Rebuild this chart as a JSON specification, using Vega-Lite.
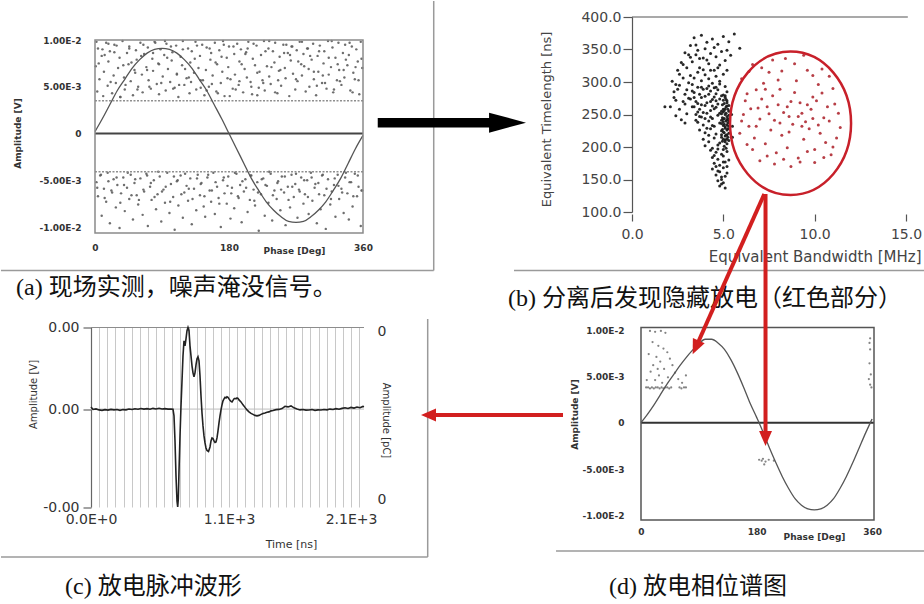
{
"$schema":"https://vega.github.io/schema/vega-lite/v6.json",
"background":"white",
"padding":0,
"autosize":{"type":"pad"},
"config":{"view":{"stroke":null},"font":"DejaVu Sans","axis":{"labelOverlap":false,"labelFlush":false}},
"datasets":{
"aNoise":[
{"p":1,"a":0.0072},{"p":3,"a":0.0045},{"p":4,"a":0.0091},{"p":6,"a":0.0058},{"p":9,"a":0.0083},{"p":11,"a":0.0040},{"p":12,"a":0.0066},{"p":15,"a":0.0097},{"p":17,"a":0.0051},{"p":18,"a":0.0077},
{"p":20,"a":0.0088},{"p":23,"a":0.0043},{"p":25,"a":0.0062},{"p":26,"a":0.0095},{"p":28,"a":0.0054},{"p":31,"a":0.0070},{"p":33,"a":0.0081},{"p":34,"a":0.0039},{"p":37,"a":0.0099},{"p":39,"a":0.0060},
{"p":40,"a":0.0047},{"p":43,"a":0.0086},{"p":45,"a":0.0074},{"p":46,"a":0.0093},{"p":48,"a":0.0056},{"p":51,"a":0.0041},{"p":53,"a":0.0068},{"p":55,"a":0.0089},{"p":56,"a":0.0079},{"p":58,"a":0.0050},
{"p":61,"a":0.0097},{"p":63,"a":0.0063},{"p":64,"a":0.0044},{"p":66,"a":0.0085},{"p":69,"a":0.0071},{"p":71,"a":0.0092},{"p":72,"a":0.0057},{"p":75,"a":0.0048},{"p":77,"a":0.0080},{"p":78,"a":0.0067},
{"p":80,"a":0.0098},{"p":83,"a":0.0053},{"p":85,"a":0.0075},{"p":86,"a":0.0042},{"p":88,"a":0.0090},{"p":91,"a":0.0061},{"p":93,"a":0.0084},{"p":95,"a":0.0046},{"p":96,"a":0.0096},{"p":98,"a":0.0069},
{"p":101,"a":0.0055},{"p":103,"a":0.0078},{"p":104,"a":0.0087},{"p":107,"a":0.0049},{"p":109,"a":0.0094},{"p":110,"a":0.0064},{"p":112,"a":0.0039},{"p":115,"a":0.0082},{"p":117,"a":0.0073},{"p":118,"a":0.0099},
{"p":120,"a":0.0052},{"p":123,"a":0.0059},{"p":125,"a":0.0091},{"p":127,"a":0.0043},{"p":128,"a":0.0076},{"p":130,"a":0.0088},{"p":133,"a":0.0065},{"p":135,"a":0.0098},{"p":136,"a":0.0047},{"p":139,"a":0.0070},
{"p":141,"a":0.0083},{"p":142,"a":0.0057},{"p":144,"a":0.0095},{"p":147,"a":0.0041},{"p":149,"a":0.0068},{"p":150,"a":0.0092},{"p":153,"a":0.0050},{"p":155,"a":0.0079},{"p":156,"a":0.0086},{"p":158,"a":0.0062},
{"p":161,"a":0.0097},{"p":163,"a":0.0045},{"p":164,"a":0.0074},{"p":167,"a":0.0089},{"p":169,"a":0.0054},{"p":171,"a":0.0066},{"p":172,"a":0.0099},{"p":174,"a":0.0040},{"p":177,"a":0.0081},{"p":179,"a":0.0071},
{"p":180,"a":0.0093},{"p":182,"a":0.0058},{"p":185,"a":0.0048},{"p":187,"a":0.0085},{"p":188,"a":0.0063},{"p":191,"a":0.0096},{"p":193,"a":0.0052},{"p":194,"a":0.0077},{"p":196,"a":0.0090},{"p":199,"a":0.0044},
{"p":201,"a":0.0069},{"p":203,"a":0.0087},{"p":204,"a":0.0060},{"p":206,"a":0.0098},{"p":209,"a":0.0055},{"p":211,"a":0.0042},{"p":212,"a":0.0080},{"p":215,"a":0.0073},{"p":217,"a":0.0094},{"p":218,"a":0.0065},
{"p":220,"a":0.0049},{"p":223,"a":0.0084},{"p":225,"a":0.0057},{"p":227,"a":0.0099},{"p":228,"a":0.0046},{"p":231,"a":0.0072},{"p":233,"a":0.0091},{"p":234,"a":0.0061},{"p":236,"a":0.0053},{"p":239,"a":0.0088},
{"p":241,"a":0.0076},{"p":242,"a":0.0097},{"p":245,"a":0.0043},{"p":247,"a":0.0067},{"p":248,"a":0.0082},{"p":250,"a":0.0051},{"p":253,"a":0.0095},{"p":255,"a":0.0070},{"p":256,"a":0.0059},{"p":259,"a":0.0086},
{"p":261,"a":0.0040},{"p":263,"a":0.0078},{"p":264,"a":0.0093},{"p":266,"a":0.0064},{"p":269,"a":0.0047},{"p":271,"a":0.0089},{"p":272,"a":0.0056},{"p":275,"a":0.0098},{"p":277,"a":0.0074},{"p":278,"a":0.0062},
{"p":280,"a":0.0085},{"p":283,"a":0.0045},{"p":285,"a":0.0091},{"p":287,"a":0.0069},{"p":288,"a":0.0050},{"p":291,"a":0.0079},{"p":293,"a":0.0096},{"p":294,"a":0.0058},{"p":297,"a":0.0041},{"p":299,"a":0.0083},
{"p":300,"a":0.0066},{"p":302,"a":0.0094},{"p":305,"a":0.0054},{"p":307,"a":0.0075},{"p":308,"a":0.0088},{"p":311,"a":0.0048},{"p":313,"a":0.0099},{"p":314,"a":0.0063},{"p":317,"a":0.0071},{"p":319,"a":0.0092},
{"p":320,"a":0.0044},{"p":323,"a":0.0081},{"p":325,"a":0.0057},{"p":327,"a":0.0097},{"p":328,"a":0.0068},{"p":331,"a":0.0052},{"p":333,"a":0.0086},{"p":335,"a":0.0060},{"p":336,"a":0.0095},{"p":339,"a":0.0073},
{"p":341,"a":0.0084},{"p":343,"a":0.0046},{"p":345,"a":0.0093},{"p":347,"a":0.0065},{"p":349,"a":0.0058},{"p":351,"a":0.0090},{"p":353,"a":0.0077},{"p":355,"a":0.0042},{"p":357,"a":0.0098},{"p":359,"a":0.0070},
{"p":2,"a":0.0098},{"p":5,"a":0.0075},{"p":10,"a":0.0090},{"p":13,"a":0.0084},{"p":18,"a":0.0096},{"p":21,"a":0.0055},{"p":26,"a":0.0087},{"p":29,"a":0.0094},{"p":34,"a":0.0039},{"p":38,"a":0.0073},
{"p":41,"a":0.0052},{"p":46,"a":0.0091},{"p":49,"a":0.0076},{"p":54,"a":0.0065},{"p":57,"a":0.0047},{"p":62,"a":0.0083},{"p":65,"a":0.0095},{"p":70,"a":0.0068},{"p":73,"a":0.0050},{"p":78,"a":0.0086},
{"p":81,"a":0.0097},{"p":86,"a":0.0074},{"p":89,"a":0.0054},{"p":94,"a":0.0099},{"p":97,"a":0.0081},{"p":102,"a":0.0093},{"p":105,"a":0.0048},{"p":110,"a":0.0063},{"p":113,"a":0.0052},{"p":118,"a":0.0090},
{"p":121,"a":0.0069},{"p":126,"a":0.0060},{"p":129,"a":0.0055},{"p":134,"a":0.0080},{"p":137,"a":0.0094},{"p":142,"a":0.0049},{"p":145,"a":0.0057},{"p":150,"a":0.0046},{"p":154,"a":0.0091},{"p":157,"a":0.0053},
{"p":162,"a":0.0076},{"p":165,"a":0.0043},{"p":170,"a":0.0082},{"p":173,"a":0.0095},{"p":178,"a":0.0059},{"p":181,"a":0.0040},{"p":186,"a":0.0093},{"p":189,"a":0.0047},{"p":194,"a":0.0056},{"p":197,"a":0.0074},
{"p":202,"a":0.0085},{"p":205,"a":0.0091},{"p":210,"a":0.0050},{"p":213,"a":0.0096},{"p":218,"a":0.0041},{"p":221,"a":0.0066},{"p":226,"a":0.0054},{"p":229,"a":0.0088},{"p":234,"a":0.0099},{"p":237,"a":0.0071},
{"p":242,"a":0.0044},{"p":246,"a":0.0057},{"p":249,"a":0.0068},{"p":254,"a":0.0086},{"p":257,"a":0.0095},{"p":262,"a":0.0084},{"p":265,"a":0.0093},{"p":270,"a":0.0058},{"p":273,"a":0.0077},{"p":278,"a":0.0098},
{"p":281,"a":0.0072},{"p":286,"a":0.0091},{"p":289,"a":0.0083},{"p":294,"a":0.0066},{"p":298,"a":0.0051},{"p":301,"a":0.0088},{"p":306,"a":0.0062},{"p":309,"a":0.0054},{"p":314,"a":0.0081},{"p":318,"a":0.0099},
{"p":321,"a":0.0047},{"p":326,"a":0.0074},{"p":329,"a":0.0056},{"p":334,"a":0.0068},{"p":337,"a":0.0079},{"p":342,"a":0.0097},{"p":346,"a":0.0044},{"p":350,"a":0.0071},{"p":354,"a":0.0057},{"p":358,"a":0.0080},
{"p":2,"a":-0.0052},{"p":4,"a":-0.0067},{"p":7,"a":-0.0045},{"p":9,"a":-0.0088},{"p":12,"a":-0.0059},{"p":15,"a":-0.0073},{"p":17,"a":-0.0042},{"p":20,"a":-0.0096},{"p":22,"a":-0.0061},{"p":25,"a":-0.0049},
{"p":28,"a":-0.0079},{"p":30,"a":-0.0055},{"p":33,"a":-0.0101},{"p":35,"a":-0.0064},{"p":38,"a":-0.0047},{"p":40,"a":-0.0083},{"p":43,"a":-0.0058},{"p":46,"a":-0.0070},{"p":48,"a":-0.0044},{"p":51,"a":-0.0092},
{"p":53,"a":-0.0053},{"p":56,"a":-0.0066},{"p":58,"a":-0.0076},{"p":61,"a":-0.0048},{"p":64,"a":-0.0087},{"p":66,"a":-0.0062},{"p":69,"a":-0.0043},{"p":71,"a":-0.0099},{"p":74,"a":-0.0057},{"p":76,"a":-0.0071},
{"p":79,"a":-0.0050},{"p":82,"a":-0.0081},{"p":84,"a":-0.0065},{"p":87,"a":-0.0046},{"p":89,"a":-0.0094},{"p":92,"a":-0.0060},{"p":94,"a":-0.0074},{"p":97,"a":-0.0042},{"p":100,"a":-0.0085},{"p":102,"a":-0.0054},
{"p":105,"a":-0.0068},{"p":107,"a":-0.0103},{"p":110,"a":-0.0051},{"p":112,"a":-0.0077},{"p":115,"a":-0.0045},{"p":118,"a":-0.0090},{"p":120,"a":-0.0063},{"p":123,"a":-0.0056},{"p":125,"a":-0.0072},{"p":128,"a":-0.0048},
{"p":130,"a":-0.0097},{"p":133,"a":-0.0059},{"p":136,"a":-0.0082},{"p":138,"a":-0.0044},{"p":141,"a":-0.0066},{"p":143,"a":-0.0053},{"p":146,"a":-0.0078},{"p":148,"a":-0.0089},{"p":151,"a":-0.0047},{"p":154,"a":-0.0061},
{"p":156,"a":-0.0073},{"p":159,"a":-0.0042},{"p":161,"a":-0.0086},{"p":164,"a":-0.0057},{"p":166,"a":-0.0069},{"p":169,"a":-0.0100},{"p":172,"a":-0.0050},{"p":174,"a":-0.0064},{"p":177,"a":-0.0075},{"p":179,"a":-0.0046},
{"p":182,"a":-0.0091},{"p":184,"a":-0.0058},{"p":187,"a":-0.0080},{"p":190,"a":-0.0043},{"p":192,"a":-0.0067},{"p":195,"a":-0.0055},{"p":197,"a":-0.0095},{"p":200,"a":-0.0062},{"p":202,"a":-0.0049},{"p":205,"a":-0.0084},
{"p":208,"a":-0.0071},{"p":210,"a":-0.0045},{"p":213,"a":-0.0060},{"p":215,"a":-0.0077},{"p":218,"a":-0.0052},{"p":220,"a":-0.0104},{"p":223,"a":-0.0065},{"p":226,"a":-0.0048},{"p":228,"a":-0.0088},{"p":231,"a":-0.0056},
{"p":233,"a":-0.0074},{"p":236,"a":-0.0043},{"p":238,"a":-0.0093},{"p":241,"a":-0.0061},{"p":244,"a":-0.0070},{"p":246,"a":-0.0051},{"p":249,"a":-0.0082},{"p":251,"a":-0.0046},{"p":254,"a":-0.0063},{"p":256,"a":-0.0098},
{"p":259,"a":-0.0057},{"p":262,"a":-0.0079},{"p":264,"a":-0.0044},{"p":267,"a":-0.0068},{"p":269,"a":-0.0054},{"p":272,"a":-0.0090},{"p":274,"a":-0.0060},{"p":277,"a":-0.0047},{"p":280,"a":-0.0075},{"p":282,"a":-0.0065},
{"p":285,"a":-0.0050},{"p":287,"a":-0.0086},{"p":290,"a":-0.0042},{"p":292,"a":-0.0072},{"p":295,"a":-0.0058},{"p":298,"a":-0.0096},{"p":300,"a":-0.0053},{"p":303,"a":-0.0081},{"p":305,"a":-0.0045},{"p":308,"a":-0.0066},
{"p":310,"a":-0.0102},{"p":313,"a":-0.0049},{"p":316,"a":-0.0076},{"p":318,"a":-0.0062},{"p":321,"a":-0.0055},{"p":323,"a":-0.0089},{"p":326,"a":-0.0044},{"p":328,"a":-0.0070},{"p":331,"a":-0.0059},{"p":334,"a":-0.0085},
{"p":336,"a":-0.0047},{"p":339,"a":-0.0064},{"p":341,"a":-0.0092},{"p":344,"a":-0.0052},{"p":346,"a":-0.0078},{"p":349,"a":-0.0043},{"p":352,"a":-0.0067},{"p":354,"a":-0.0057},{"p":357,"a":-0.0099},{"p":359,"a":-0.0061},
{"p":3,"a":-0.0058},{"p":8,"a":-0.0044},{"p":13,"a":-0.0069},{"p":18,"a":-0.0051},{"p":23,"a":-0.0063},{"p":29,"a":-0.0047},{"p":34,"a":-0.0074},{"p":39,"a":-0.0055},{"p":44,"a":-0.0042},{"p":49,"a":-0.0066},
{"p":54,"a":-0.0049},{"p":59,"a":-0.0071},{"p":65,"a":-0.0060},{"p":70,"a":-0.0045},{"p":75,"a":-0.0053},{"p":80,"a":-0.0068},{"p":85,"a":-0.0041},{"p":90,"a":-0.0062},{"p":95,"a":-0.0057},{"p":101,"a":-0.0073},
{"p":106,"a":-0.0046},{"p":111,"a":-0.0050},{"p":116,"a":-0.0065},{"p":121,"a":-0.0043},{"p":126,"a":-0.0059},{"p":131,"a":-0.0070},{"p":137,"a":-0.0048},{"p":142,"a":-0.0054},{"p":147,"a":-0.0067},{"p":152,"a":-0.0044},
{"p":157,"a":-0.0061},{"p":162,"a":-0.0052},{"p":167,"a":-0.0075},{"p":173,"a":-0.0047},{"p":178,"a":-0.0056},{"p":183,"a":-0.0064},{"p":188,"a":-0.0042},{"p":193,"a":-0.0069},{"p":198,"a":-0.0051},{"p":203,"a":-0.0058},
{"p":209,"a":-0.0045},{"p":214,"a":-0.0072},{"p":219,"a":-0.0063},{"p":224,"a":-0.0049},{"p":229,"a":-0.0055},{"p":234,"a":-0.0041},{"p":239,"a":-0.0066},{"p":245,"a":-0.0053},{"p":250,"a":-0.0060},{"p":255,"a":-0.0046},
{"p":260,"a":-0.0071},{"p":265,"a":-0.0057},{"p":270,"a":-0.0043},{"p":275,"a":-0.0062},{"p":281,"a":-0.0050},{"p":286,"a":-0.0068},{"p":291,"a":-0.0047},{"p":296,"a":-0.0054},{"p":301,"a":-0.0065},{"p":306,"a":-0.0044},
{"p":311,"a":-0.0059},{"p":317,"a":-0.0070},{"p":322,"a":-0.0048},{"p":327,"a":-0.0056},{"p":332,"a":-0.0063},{"p":337,"a":-0.0042},{"p":342,"a":-0.0052},{"p":347,"a":-0.0067},{"p":353,"a":-0.0045},{"p":358,"a":-0.0061}
],
"aSine":[
{"p":0,"a":0.0002},{"p":10,"a":0.0016},{"p":20,"a":0.0031},{"p":30,"a":0.0046},{"p":40,"a":0.0058},{"p":50,"a":0.007},{"p":60,"a":0.0079},{"p":70,"a":0.0086},{"p":80,"a":0.009},{"p":90,"a":0.0091},{"p":100,"a":0.009},{"p":110,"a":0.0086},{"p":120,"a":0.0079},{"p":130,"a":0.007},{"p":140,"a":0.0058},{"p":150,"a":0.0046},{"p":160,"a":0.0031},{"p":170,"a":0.0016},{"p":180,"a":0},{"p":190,"a":-0.0016},{"p":200,"a":-0.0032},{"p":210,"a":-0.0048},{"p":220,"a":-0.0061},{"p":230,"a":-0.0073},{"p":240,"a":-0.0082},{"p":250,"a":-0.0089},{"p":260,"a":-0.0094},{"p":270,"a":-0.0095},{"p":280,"a":-0.0094},{"p":290,"a":-0.0089},{"p":300,"a":-0.0082},{"p":310,"a":-0.0073},{"p":320,"a":-0.0061},{"p":330,"a":-0.0048},{"p":340,"a":-0.0032},{"p":350,"a":-0.0016},{"p":360,"a":-0.0002}
],
"bPts":[
{"bw":2.1,"tl":262,"cls":"noise"},{"bw":2.3,"tl":285,"cls":"noise"},{"bw":2.2,"tl":301,"cls":"noise"},{"bw":2.4,"tl":248,"cls":"noise"},{"bw":2.5,"tl":318,"cls":"noise"},{"bw":2.4,"tl":272,"cls":"noise"},{"bw":2.6,"tl":295,"cls":"noise"},{"bw":2.7,"tl":330,"cls":"noise"},{"bw":2.6,"tl":258,"cls":"noise"},{"bw":2.8,"tl":306,"cls":"noise"},
{"bw":2.9,"tl":281,"cls":"noise"},{"bw":2.7,"tl":242,"cls":"noise"},{"bw":3.0,"tl":322,"cls":"noise"},{"bw":2.9,"tl":266,"cls":"noise"},{"bw":3.1,"tl":299,"cls":"noise"},{"bw":3.0,"tl":251,"cls":"noise"},{"bw":3.2,"tl":338,"cls":"noise"},{"bw":3.1,"tl":275,"cls":"noise"},{"bw":2.5,"tl":289,"cls":"noise"},{"bw":2.8,"tl":270,"cls":"noise"},
{"bw":3.2,"tl":310,"cls":"noise"},{"bw":2.3,"tl":276,"cls":"noise"},{"bw":2.6,"tl":312,"cls":"noise"},{"bw":3.0,"tl":288,"cls":"noise"},{"bw":2.9,"tl":237,"cls":"noise"},{"bw":3.3,"tl":262,"cls":"noise"},{"bw":2.8,"tl":327,"cls":"noise"},{"bw":2.4,"tl":296,"cls":"noise"},
{"bw":2.9,"tl":345,"cls":"noise"},{"bw":3.2,"tl":356,"cls":"noise"},{"bw":3.4,"tl":368,"cls":"noise"},{"bw":3.6,"tl":349,"cls":"noise"},{"bw":3.8,"tl":372,"cls":"noise"},{"bw":4.1,"tl":361,"cls":"noise"},{"bw":4.4,"tl":366,"cls":"noise"},{"bw":4.7,"tl":358,"cls":"noise"},{"bw":5.0,"tl":370,"cls":"noise"},{"bw":5.3,"tl":362,"cls":"noise"},
{"bw":5.6,"tl":374,"cls":"noise"},{"bw":5.9,"tl":352,"cls":"noise"},{"bw":3.3,"tl":331,"cls":"noise"},{"bw":3.5,"tl":342,"cls":"noise"},{"bw":3.7,"tl":322,"cls":"noise"},{"bw":3.9,"tl":337,"cls":"noise"},{"bw":4.0,"tl":351,"cls":"noise"},{"bw":4.2,"tl":328,"cls":"noise"},{"bw":4.3,"tl":344,"cls":"noise"},{"bw":4.5,"tl":318,"cls":"noise"},
{"bw":4.6,"tl":339,"cls":"noise"},{"bw":4.8,"tl":326,"cls":"noise"},{"bw":4.9,"tl":347,"cls":"noise"},{"bw":5.1,"tl":333,"cls":"noise"},{"bw":5.2,"tl":318,"cls":"noise"},{"bw":5.4,"tl":341,"cls":"noise"},{"bw":3.4,"tl":306,"cls":"noise"},{"bw":3.6,"tl":315,"cls":"noise"},{"bw":3.8,"tl":302,"cls":"noise"},{"bw":4.0,"tl":311,"cls":"noise"},
{"bw":4.2,"tl":305,"cls":"noise"},{"bw":4.4,"tl":298,"cls":"noise"},{"bw":4.6,"tl":309,"cls":"noise"},{"bw":4.8,"tl":301,"cls":"noise"},{"bw":5.0,"tl":312,"cls":"noise"},{"bw":3.5,"tl":357,"cls":"noise"},{"bw":4.3,"tl":318,"cls":"noise"},{"bw":3.1,"tl":342,"cls":"noise"},{"bw":4.1,"tl":334,"cls":"noise"},{"bw":3.9,"tl":319,"cls":"noise"},
{"bw":4.7,"tl":322,"cls":"noise"},{"bw":5.2,"tl":349,"cls":"noise"},{"bw":3.7,"tl":336,"cls":"noise"},{"bw":4.5,"tl":353,"cls":"noise"},
{"bw":3.3,"tl":296,"cls":"noise"},{"bw":3.6,"tl":292,"cls":"noise"},{"bw":3.9,"tl":289,"cls":"noise"},{"bw":4.2,"tl":294,"cls":"noise"},{"bw":4.5,"tl":291,"cls":"noise"},{"bw":4.8,"tl":297,"cls":"noise"},{"bw":5.1,"tl":293,"cls":"noise"},{"bw":3.4,"tl":284,"cls":"noise"},{"bw":3.7,"tl":281,"cls":"noise"},{"bw":4.0,"tl":278,"cls":"noise"},
{"bw":4.3,"tl":286,"cls":"noise"},{"bw":4.6,"tl":282,"cls":"noise"},{"bw":4.9,"tl":279,"cls":"noise"},{"bw":5.2,"tl":285,"cls":"noise"},{"bw":3.2,"tl":274,"cls":"noise"},{"bw":3.5,"tl":270,"cls":"noise"},{"bw":3.8,"tl":276,"cls":"noise"},{"bw":4.1,"tl":268,"cls":"noise"},{"bw":4.4,"tl":273,"cls":"noise"},{"bw":4.7,"tl":266,"cls":"noise"},
{"bw":5.0,"tl":272,"cls":"noise"},{"bw":3.4,"tl":262,"cls":"noise"},{"bw":3.7,"tl":258,"cls":"noise"},{"bw":4.0,"tl":264,"cls":"noise"},{"bw":4.3,"tl":256,"cls":"noise"},{"bw":4.6,"tl":261,"cls":"noise"},{"bw":4.9,"tl":255,"cls":"noise"},{"bw":5.2,"tl":263,"cls":"noise"},{"bw":3.5,"tl":250,"cls":"noise"},{"bw":3.8,"tl":246,"cls":"noise"},
{"bw":4.1,"tl":252,"cls":"noise"},{"bw":4.4,"tl":244,"cls":"noise"},{"bw":4.7,"tl":249,"cls":"noise"},{"bw":5.0,"tl":243,"cls":"noise"},{"bw":3.6,"tl":238,"cls":"noise"},{"bw":3.9,"tl":234,"cls":"noise"},{"bw":4.2,"tl":240,"cls":"noise"},{"bw":4.5,"tl":232,"cls":"noise"},{"bw":4.8,"tl":237,"cls":"noise"},{"bw":5.1,"tl":231,"cls":"noise"},
{"bw":3.7,"tl":226,"cls":"noise"},{"bw":4.0,"tl":222,"cls":"noise"},{"bw":4.3,"tl":228,"cls":"noise"},{"bw":4.6,"tl":220,"cls":"noise"},{"bw":4.9,"tl":225,"cls":"noise"},{"bw":5.2,"tl":219,"cls":"noise"},{"bw":3.9,"tl":212,"cls":"noise"},{"bw":4.2,"tl":208,"cls":"noise"},{"bw":4.5,"tl":214,"cls":"noise"},{"bw":4.8,"tl":206,"cls":"noise"},
{"bw":5.1,"tl":211,"cls":"noise"},{"bw":4.0,"tl":202,"cls":"noise"},{"bw":4.4,"tl":198,"cls":"noise"},{"bw":4.7,"tl":203,"cls":"noise"},{"bw":5.0,"tl":196,"cls":"noise"},{"bw":3.3,"tl":286,"cls":"noise"},{"bw":3.6,"tl":267,"cls":"noise"},{"bw":3.9,"tl":253,"cls":"noise"},{"bw":4.2,"tl":281,"cls":"noise"},{"bw":4.5,"tl":259,"cls":"noise"},
{"bw":4.8,"tl":274,"cls":"noise"},{"bw":3.5,"tl":241,"cls":"noise"},{"bw":3.8,"tl":265,"cls":"noise"},{"bw":4.1,"tl":290,"cls":"noise"},{"bw":4.4,"tl":233,"cls":"noise"},{"bw":4.7,"tl":288,"cls":"noise"},{"bw":5.0,"tl":258,"cls":"noise"},{"bw":4.3,"tl":246,"cls":"noise"},{"bw":4.6,"tl":271,"cls":"noise"},{"bw":4.9,"tl":241,"cls":"noise"},
{"bw":3.6,"tl":254,"cls":"noise"},{"bw":4.0,"tl":244,"cls":"noise"},{"bw":4.4,"tl":263,"cls":"noise"},{"bw":4.8,"tl":252,"cls":"noise"},{"bw":5.2,"tl":242,"cls":"noise"},{"bw":3.4,"tl":276,"cls":"noise"},{"bw":4.1,"tl":229,"cls":"noise"},{"bw":4.5,"tl":277,"cls":"noise"},{"bw":4.9,"tl":215,"cls":"noise"},{"bw":4.2,"tl":218,"cls":"noise"},
{"bw":3.8,"tl":292,"cls":"noise"},{"bw":4.6,"tl":292,"cls":"noise"},{"bw":3.7,"tl":247,"cls":"noise"},{"bw":4.3,"tl":270,"cls":"noise"},{"bw":5.1,"tl":279,"cls":"noise"},
{"bw":5.0,"tl":280,"cls":"noise"},{"bw":5.1,"tl":276,"cls":"noise"},{"bw":5.2,"tl":271,"cls":"noise"},{"bw":5.05,"tl":267,"cls":"noise"},{"bw":5.15,"tl":262,"cls":"noise"},{"bw":5.25,"tl":258,"cls":"noise"},{"bw":5.0,"tl":254,"cls":"noise"},{"bw":5.1,"tl":250,"cls":"noise"},{"bw":5.2,"tl":247,"cls":"noise"},{"bw":5.05,"tl":244,"cls":"noise"},
{"bw":5.15,"tl":240,"cls":"noise"},{"bw":5.25,"tl":237,"cls":"noise"},{"bw":5.0,"tl":233,"cls":"noise"},{"bw":5.1,"tl":229,"cls":"noise"},{"bw":5.2,"tl":226,"cls":"noise"},{"bw":5.05,"tl":222,"cls":"noise"},{"bw":5.15,"tl":218,"cls":"noise"},{"bw":5.25,"tl":215,"cls":"noise"},{"bw":5.0,"tl":212,"cls":"noise"},{"bw":5.1,"tl":208,"cls":"noise"},
{"bw":5.2,"tl":205,"cls":"noise"},{"bw":5.05,"tl":201,"cls":"noise"},{"bw":5.15,"tl":198,"cls":"noise"},{"bw":4.95,"tl":265,"cls":"noise"},{"bw":4.95,"tl":245,"cls":"noise"},{"bw":4.95,"tl":227,"cls":"noise"},{"bw":4.95,"tl":209,"cls":"noise"},{"bw":5.3,"tl":264,"cls":"noise"},{"bw":5.3,"tl":249,"cls":"noise"},{"bw":5.3,"tl":232,"cls":"noise"},
{"bw":5.3,"tl":221,"cls":"noise"},{"bw":5.3,"tl":240,"cls":"noise"},{"bw":5.3,"tl":255,"cls":"noise"},{"bw":5.2,"tl":268,"cls":"noise"},{"bw":5.1,"tl":259,"cls":"noise"},{"bw":5.0,"tl":239,"cls":"noise"},{"bw":5.2,"tl":234,"cls":"noise"},{"bw":5.1,"tl":217,"cls":"noise"},{"bw":5.0,"tl":223,"cls":"noise"},{"bw":5.2,"tl":212,"cls":"noise"},
{"bw":5.15,"tl":273,"cls":"noise"},{"bw":5.25,"tl":244,"cls":"noise"},{"bw":5.05,"tl":235,"cls":"noise"},{"bw":5.15,"tl":252,"cls":"noise"},{"bw":5.25,"tl":228,"cls":"noise"},{"bw":5.05,"tl":256,"cls":"noise"},{"bw":4.9,"tl":236,"cls":"noise"},{"bw":4.9,"tl":251,"cls":"noise"},{"bw":4.9,"tl":219,"cls":"noise"},{"bw":5.3,"tl":210,"cls":"noise"},
{"bw":4.3,"tl":195,"cls":"noise"},{"bw":4.6,"tl":192,"cls":"noise"},{"bw":4.9,"tl":189,"cls":"noise"},{"bw":5.2,"tl":193,"cls":"noise"},{"bw":4.4,"tl":184,"cls":"noise"},{"bw":4.7,"tl":181,"cls":"noise"},{"bw":5.0,"tl":186,"cls":"noise"},{"bw":5.3,"tl":180,"cls":"noise"},{"bw":4.5,"tl":175,"cls":"noise"},{"bw":4.8,"tl":172,"cls":"noise"},
{"bw":5.1,"tl":177,"cls":"noise"},{"bw":4.4,"tl":166,"cls":"noise"},{"bw":4.7,"tl":163,"cls":"noise"},{"bw":5.0,"tl":168,"cls":"noise"},{"bw":4.6,"tl":157,"cls":"noise"},{"bw":4.9,"tl":154,"cls":"noise"},{"bw":5.2,"tl":160,"cls":"noise"},{"bw":4.7,"tl":148,"cls":"noise"},{"bw":5.0,"tl":145,"cls":"noise"},{"bw":4.8,"tl":140,"cls":"noise"},
{"bw":5.1,"tl":137,"cls":"noise"},{"bw":4.9,"tl":150,"cls":"noise"},{"bw":4.6,"tl":170,"cls":"noise"},{"bw":5.2,"tl":170,"cls":"noise"},{"bw":4.8,"tl":162,"cls":"noise"},{"bw":4.5,"tl":187,"cls":"noise"},{"bw":5.1,"tl":155,"cls":"noise"},{"bw":4.7,"tl":197,"cls":"noise"},{"bw":5.0,"tl":177,"cls":"noise"},{"bw":4.9,"tl":143,"cls":"noise"},
{"bw":1.8,"tl":262,"cls":"noise"},{"bw":5.5,"tl":232,"cls":"noise"},{"bw":5.45,"tl":250,"cls":"noise"},{"bw":5.5,"tl":215,"cls":"noise"},
{"bw":6.0,"tl":305,"cls":"pd"},{"bw":6.3,"tl":282,"cls":"pd"},{"bw":6.6,"tl":327,"cls":"pd"},{"bw":6.9,"tl":260,"cls":"pd"},{"bw":7.2,"tl":298,"cls":"pd"},{"bw":7.5,"tl":315,"cls":"pd"},{"bw":7.8,"tl":241,"cls":"pd"},{"bw":8.1,"tl":289,"cls":"pd"},{"bw":8.4,"tl":336,"cls":"pd"},{"bw":8.7,"tl":270,"cls":"pd"},
{"bw":9.0,"tl":302,"cls":"pd"},{"bw":9.3,"tl":252,"cls":"pd"},{"bw":9.6,"tl":318,"cls":"pd"},{"bw":9.9,"tl":277,"cls":"pd"},{"bw":10.2,"tl":296,"cls":"pd"},{"bw":10.5,"tl":245,"cls":"pd"},{"bw":10.8,"tl":309,"cls":"pd"},{"bw":11.1,"tl":266,"cls":"pd"},{"bw":11.4,"tl":230,"cls":"pd"},{"bw":6.1,"tl":250,"cls":"pd"},
{"bw":6.4,"tl":232,"cls":"pd"},{"bw":6.7,"tl":214,"cls":"pd"},{"bw":7.0,"tl":243,"cls":"pd"},{"bw":7.3,"tl":205,"cls":"pd"},{"bw":7.6,"tl":226,"cls":"pd"},{"bw":7.9,"tl":191,"cls":"pd"},{"bw":8.2,"tl":218,"cls":"pd"},{"bw":8.5,"tl":199,"cls":"pd"},{"bw":8.8,"tl":235,"cls":"pd"},{"bw":9.1,"tl":183,"cls":"pd"},
{"bw":9.4,"tl":212,"cls":"pd"},{"bw":9.7,"tl":228,"cls":"pd"},{"bw":10.0,"tl":196,"cls":"pd"},{"bw":10.3,"tl":221,"cls":"pd"},{"bw":10.6,"tl":207,"cls":"pd"},{"bw":10.9,"tl":188,"cls":"pd"},{"bw":11.2,"tl":214,"cls":"pd"},{"bw":6.2,"tl":271,"cls":"pd"},{"bw":6.5,"tl":259,"cls":"pd"},{"bw":6.8,"tl":288,"cls":"pd"},
{"bw":7.1,"tl":274,"cls":"pd"},{"bw":7.4,"tl":262,"cls":"pd"},{"bw":7.7,"tl":279,"cls":"pd"},{"bw":8.0,"tl":265,"cls":"pd"},{"bw":8.3,"tl":253,"cls":"pd"},{"bw":8.6,"tl":247,"cls":"pd"},{"bw":8.9,"tl":284,"cls":"pd"},{"bw":9.2,"tl":268,"cls":"pd"},{"bw":9.5,"tl":239,"cls":"pd"},{"bw":9.8,"tl":258,"cls":"pd"},
{"bw":10.1,"tl":271,"cls":"pd"},{"bw":10.4,"tl":283,"cls":"pd"},{"bw":10.7,"tl":262,"cls":"pd"},{"bw":11.0,"tl":290,"cls":"pd"},{"bw":5.9,"tl":221,"cls":"pd"},{"bw":6.3,"tl":204,"cls":"pd"},{"bw":6.6,"tl":196,"cls":"pd"},{"bw":7.0,"tl":179,"cls":"pd"},{"bw":7.4,"tl":186,"cls":"pd"},{"bw":7.8,"tl":174,"cls":"pd"},
{"bw":8.3,"tl":181,"cls":"pd"},{"bw":8.7,"tl":170,"cls":"pd"},{"bw":9.2,"tl":177,"cls":"pd"},{"bw":9.6,"tl":193,"cls":"pd"},{"bw":10.0,"tl":176,"cls":"pd"},{"bw":10.5,"tl":184,"cls":"pd"},{"bw":11.0,"tl":200,"cls":"pd"},{"bw":7.1,"tl":322,"cls":"pd"},{"bw":7.7,"tl":334,"cls":"pd"},{"bw":8.2,"tl":317,"cls":"pd"},
{"bw":8.9,"tl":328,"cls":"pd"},{"bw":9.4,"tl":341,"cls":"pd"},{"bw":9.9,"tl":310,"cls":"pd"},{"bw":10.4,"tl":320,"cls":"pd"},{"bw":6.8,"tl":232,"cls":"pd"},{"bw":7.5,"tl":251,"cls":"pd"},{"bw":8.1,"tl":237,"cls":"pd"},{"bw":8.6,"tl":223,"cls":"pd"},{"bw":9.3,"tl":232,"cls":"pd"},{"bw":9.9,"tl":244,"cls":"pd"},
{"bw":10.2,"tl":234,"cls":"pd"},{"bw":8.5,"tl":262,"cls":"pd"},{"bw":9.1,"tl":247,"cls":"pd"},{"bw":9.6,"tl":265,"cls":"pd"},{"bw":7.3,"tl":289,"cls":"pd"},{"bw":8.0,"tl":303,"cls":"pd"},{"bw":10.8,"tl":240,"cls":"pd"},{"bw":11.3,"tl":252,"cls":"pd"},{"bw":6.0,"tl":240,"cls":"pd"},{"bw":6.4,"tl":316,"cls":"pd"}
],
"cWave":[
{"t":0,"v":27e-6},{"t":16,"v":-4e-6},{"t":40,"v":2e-6},{"t":64,"v":-10e-6},{"t":88,"v":-16e-6},{"t":112,"v":-7e-6},{"t":136,"v":-12e-6},{"t":160,"v":-4e-6},{"t":184,"v":-10e-6},{"t":208,"v":-5e-6},
{"t":232,"v":-15e-6},{"t":256,"v":-6e-6},{"t":280,"v":-9e-6},{"t":304,"v":1e-6},{"t":328,"v":-5e-6},{"t":352,"v":4e-6},{"t":376,"v":-1e-6},{"t":400,"v":7e-6},{"t":424,"v":0},{"t":448,"v":5e-6},
{"t":472,"v":-2e-6},{"t":496,"v":9e-6},{"t":520,"v":2e-6},{"t":544,"v":10e-6},{"t":568,"v":1e-6},{"t":592,"v":6e-6},{"t":616,"v":0},{"t":640,"v":2e-6},{"t":656,"v":-1e-6},{"t":664,"v":-83e-6},
{"t":672,"v":-390e-6},{"t":680,"v":-820e-6},{"t":688,"v":-1126e-6},{"t":693.6,"v":-1200e-6},{"t":698.4,"v":-1102e-6},{"t":704,"v":-758e-6},{"t":712,"v":-329e-6},{"t":720,"v":39e-6},{"t":728,"v":346e-6},{"t":736,"v":653e-6},
{"t":744,"v":837e-6},{"t":752,"v":775e-6},{"t":760,"v":861e-6},{"t":768,"v":960e-6},{"t":776,"v":1000e-6},{"t":784,"v":960e-6},{"t":792,"v":775e-6},{"t":800,"v":653e-6},{"t":808,"v":530e-6},{"t":816,"v":444e-6},
{"t":824,"v":395e-6},{"t":832,"v":444e-6},{"t":840,"v":542e-6},{"t":848,"v":616e-6},{"t":856,"v":640e-6},{"t":864,"v":591e-6},{"t":872,"v":407e-6},{"t":880,"v":162e-6},{"t":888,"v":-47e-6},{"t":896,"v":-206e-6},
{"t":904,"v":-329e-6},{"t":912,"v":-415e-6},{"t":920,"v":-476e-6},{"t":928,"v":-507e-6},{"t":940,"v":-519e-6},{"t":952,"v":-464e-6},{"t":960,"v":-390e-6},{"t":968,"v":-353e-6},{"t":976,"v":-360e-6},{"t":984,"v":-390e-6},
{"t":992,"v":-409e-6},{"t":1000,"v":-402e-6},{"t":1008,"v":-353e-6},{"t":1016,"v":-267e-6},{"t":1024,"v":-169e-6},{"t":1032,"v":-83e-6},{"t":1040,"v":-10e-6},{"t":1048,"v":52e-6},{"t":1056,"v":101e-6},{"t":1064,"v":125e-6},
{"t":1072,"v":144e-6},{"t":1080,"v":137e-6},{"t":1088,"v":150e-6},{"t":1096,"v":144e-6},{"t":1104,"v":125e-6},{"t":1112,"v":107e-6},{"t":1120,"v":94e-6},{"t":1128,"v":88e-6},{"t":1136,"v":107e-6},{"t":1144,"v":125e-6},
{"t":1152,"v":131e-6},{"t":1160,"v":125e-6},{"t":1168,"v":137e-6},{"t":1176,"v":131e-6},{"t":1184,"v":113e-6},{"t":1200,"v":88e-6},{"t":1216,"v":52e-6},{"t":1232,"v":21e-6},{"t":1248,"v":-10e-6},{"t":1264,"v":-34e-6},
{"t":1280,"v":-53e-6},{"t":1296,"v":-65e-6},{"t":1312,"v":-77e-6},{"t":1328,"v":-83e-6},{"t":1344,"v":-77e-6},{"t":1360,"v":-65e-6},{"t":1376,"v":-53e-6},{"t":1392,"v":-47e-6},{"t":1408,"v":-38e-6},{"t":1424,"v":-34e-6},
{"t":1440,"v":-22e-6},{"t":1456,"v":-17e-6},{"t":1480,"v":-7e-6},{"t":1504,"v":-4e-6},{"t":1528,"v":6e-6},{"t":1552,"v":34e-6},{"t":1576,"v":27e-6},{"t":1600,"v":39e-6},{"t":1624,"v":15e-6},{"t":1648,"v":2e-6},
{"t":1672,"v":-10e-6},{"t":1696,"v":-5e-6},{"t":1720,"v":-13e-6},{"t":1744,"v":-11e-6},{"t":1768,"v":-6e-6},{"t":1792,"v":-15e-6},{"t":1816,"v":-10e-6},{"t":1840,"v":-12e-6},{"t":1864,"v":-5e-6},{"t":1888,"v":-9e-6},
{"t":1912,"v":0},{"t":1936,"v":-5e-6},{"t":1960,"v":5e-6},{"t":1984,"v":-1e-6},{"t":2008,"v":9e-6},{"t":2032,"v":16e-6},{"t":2056,"v":7e-6},{"t":2080,"v":21e-6},{"t":2104,"v":12e-6},{"t":2128,"v":26e-6},
{"t":2152,"v":17e-6},{"t":2176,"v":33e-6},{"t":2184,"v":29e-6}
],
"dPts":[
{"p":14,"a":0.0099},{"p":22,"a":0.0098},{"p":31,"a":0.0099},{"p":38,"a":0.0097},{"p":18,"a":0.0087},{"p":27,"a":0.0083},{"p":35,"a":0.008},{"p":12,"a":0.0074},{"p":24,"a":0.0071},{"p":41,"a":0.0076},
{"p":30,"a":0.0066},{"p":19,"a":0.0062},{"p":45,"a":0.0069},{"p":15,"a":0.0055},{"p":28,"a":0.0051},{"p":36,"a":0.0058},{"p":49,"a":0.0062},{"p":22,"a":0.0046},{"p":33,"a":0.0043},{"p":42,"a":0.0049},
{"p":53,"a":0.0054},{"p":58,"a":0.0047},{"p":64,"a":0.0043},{"p":70,"a":0.0051},{"p":26,"a":0.0058},{"p":9,"a":0.0046},
{"p":8,"a":0.0038},{"p":11,"a":0.0038},{"p":14,"a":0.0037},{"p":17,"a":0.0038},{"p":20,"a":0.0037},{"p":23,"a":0.0038},{"p":26,"a":0.0038},{"p":29,"a":0.0037},{"p":32,"a":0.0038},{"p":35,"a":0.0037},
{"p":38,"a":0.0038},{"p":41,"a":0.0038},{"p":44,"a":0.0037},{"p":47,"a":0.0038},{"p":60,"a":0.0038},{"p":63,"a":0.0037},{"p":67,"a":0.0038},{"p":70,"a":0.0038},
{"p":184,"a":-0.004},{"p":188,"a":-0.0041},{"p":190,"a":-0.0039},{"p":194,"a":-0.0042},{"p":199,"a":-0.004},{"p":207,"a":-0.0041},{"p":192,"a":-0.0045},
{"p":357,"a":0.0091},{"p":356,"a":0.0086},{"p":357,"a":0.0079},{"p":356,"a":0.0064},{"p":358,"a":0.0052},{"p":357,"a":0.0041},{"p":359,"a":0.0038},{"p":355,"a":0.0047}
],
"dSine":[
{"p":0,"a":0},{"p":10,"a":0.0009},{"p":20,"a":0.0019},{"p":30,"a":0.003},{"p":40,"a":0.0041},{"p":50,"a":0.0051},{"p":60,"a":0.0061},{"p":70,"a":0.007},{"p":80,"a":0.0078},{"p":90,"a":0.0085},{"p":100,"a":0.009},{"p":110,"a":0.009},{"p":120,"a":0.0086},{"p":130,"a":0.0079},{"p":140,"a":0.0068},{"p":150,"a":0.0054},{"p":160,"a":0.0038},{"p":170,"a":0.0021},{"p":180,"a":0.0006},{"p":184,"a":0},{"p":190,"a":-0.001},{"p":200,"a":-0.0027},{"p":210,"a":-0.0043},{"p":220,"a":-0.0058},{"p":230,"a":-0.0071},{"p":240,"a":-0.0082},{"p":250,"a":-0.0089},{"p":260,"a":-0.0093},{"p":270,"a":-0.0094},{"p":280,"a":-0.0093},{"p":290,"a":-0.0089},{"p":300,"a":-0.0082},{"p":310,"a":-0.0071},{"p":320,"a":-0.0058},{"p":330,"a":-0.0043},{"p":340,"a":-0.0027},{"p":350,"a":-0.0011},{"p":360,"a":0.0004}
],
"dArrows":[
{"x0":192.1,"y0":0.02467,"x1":85.7,"y1":0.00817},
{"x0":194.0,"y0":0.02467,"x1":194.0,"y1":-0.00165},
{"x0":-121.5,"y0":0.000831,"x1":-330.3,"y1":0.000831}
]
},
"columns":2,
"align":"each",
"spacing":{"row":94.5,"column":268},
"bounds":"flush",
"concat":[
{"width":272,"height":216,"layer":[
{"data":{"name":"aNoise"},"mark":{"type":"point","filled":true,"size":6,"color":"#5e5e5e","opacity":0.9},
"encoding":{
"x":{"field":"p","type":"quantitative","scale":{"domain":[-5.373,360],"nice":false,"zero":false},"axis":{"values":[0,180,360],"tickCount":100,"format":"d","domain":false,"ticks":false,"tickSize":0,"grid":false,"labelPadding":14,"labelBaseline":"middle","labelFontSize":9,"labelFontWeight":"bold","labelColor":"#333","labelFlush":false,"labelOverlap":false,"labelBound":false,"title":"Phase [Deg]","titleFontSize":9,"titleFontWeight":"bold","titleColor":"#333","titleX":203,"titleY":17,"titleAlign":"center","titleBaseline":"middle"}},
"y":{"field":"a","type":"quantitative","scale":{"domain":[-0.01064,0.01246],"nice":false,"zero":false},"axis":{"values":[-0.01,-0.005,0,0.005,0.01],"tickCount":100,"labelExpr":"datum.value > 0.009 ? '1.00E-2' : datum.value > 0.004 ? '5.00E-3' : datum.value > -0.001 ? '0' : datum.value > -0.006 ? '-5.00E-3' : '-1.00E-2'","domain":false,"ticks":false,"tickSize":0,"grid":false,"labelPadding":10,"labelFontSize":9,"labelFontWeight":"bold","labelColor":"#333","labelOverlap":false,"labelFlush":false,"labelBound":false,"title":"Amplitude [V]","titleFontSize":9,"titleFontWeight":"bold","titleColor":"#333","titleX":-74,"titleY":116,"titleAngle":-90,"titleAlign":"center","titleBaseline":"middle"}}}},
{"data":{"values":[{"thr":0.0035},{"thr":-0.0041}]},"mark":{"type":"rule","color":"#8f8f8f","strokeWidth":1.5,"strokeDash":[2,1.5]},"encoding":{"x":{"datum":0},"x2":{"datum":360},"y":{"field":"thr","type":"quantitative"}}},
{"data":{"values":[{}]},"mark":{"type":"rule","color":"#444","strokeWidth":2},"encoding":{"x":{"datum":0},"x2":{"datum":360},"y":{"datum":0}}},
{"data":{"name":"aSine"},"mark":{"type":"line","color":"#555","strokeWidth":1.3,"interpolate":"monotone"},"encoding":{"x":{"field":"p","type":"quantitative"},"y":{"field":"a","type":"quantitative"}}},
{"data":{"values":[{}]},"mark":{"type":"rect","fill":"transparent","stroke":"#8a8a8a","strokeWidth":1.5},"encoding":{"x":{"datum":0},"x2":{"datum":360},"y":{"datum":0.01},"y2":{"datum":-0.01064}}},
{"data":{"values":[{}]},"mark":{"type":"rule","color":"#9a9a9a","strokeWidth":1.5},"encoding":{"x":{"datum":455},"y":{"datum":0.01417},"y2":{"datum":-0.01465}}},
{"data":{"values":[{}]},"mark":{"type":"rule","color":"#9a9a9a","strokeWidth":1.5},"encoding":{"x":{"datum":-126.3},"x2":{"datum":455},"y":{"datum":-0.01465}}},
{"data":{"values":[{}]},"mark":{"type":"rule","color":"#000","strokeWidth":9.5,"strokeCap":"butt"},"encoding":{"x":{"datum":379.8},"x2":{"datum":535},"y":{"datum":0.00116}}},
{"data":{"values":[{}]},"mark":{"type":"point","shape":"M0,0L-1,-0.27L-1,0.27Z","size":5476,"filled":true,"color":"#000","opacity":1,"angle":0},"encoding":{"x":{"datum":579},"y":{"datum":0.00116}}},
{"data":{"values":[{}]},"mark":{"type":"text","text":"(a) 现场实测，噪声淹没信号。","align":"left","baseline":"middle","fontSize":24,"font":"Liberation Serif, Noto Sans CJK SC","color":"#111"},"encoding":{"x":{"datum":-106.1},"y":{"datum":-0.01652}}}
]},
{"width":274,"height":195,"layer":[
{"data":{"name":"bPts"},"mark":{"type":"point","filled":true,"size":9,"opacity":0.95},
"encoding":{
"x":{"field":"bw","type":"quantitative","scale":{"domain":[0,15],"nice":false,"zero":false},"axis":{"values":[0,5,10,15],"tickCount":100,"format":".1f","domain":false,"ticks":true,"tickSize":7,"tickColor":"#555","tickWidth":1.2,"offset":2,"grid":false,"labelPadding":13,"labelBaseline":"middle","labelFontSize":14,"labelColor":"#444","labelFlush":false,"labelOverlap":false,"labelBound":false,"title":"Equivalent Bandwidth [MHz]","titleFontSize":15,"titleFontWeight":"normal","titleColor":"#444","titleX":289,"titleY":42,"titleAlign":"right","titleBaseline":"middle"}},
"y":{"field":"tl","type":"quantitative","scale":{"domain":[100,400],"nice":false,"zero":false},"axis":{"values":[100,150,200,250,300,350,400],"tickCount":100,"format":".1f","domain":true,"domainColor":"#555","domainWidth":1.2,"ticks":true,"tickSize":9,"tickColor":"#555","tickWidth":1.2,"grid":false,"labelPadding":2,"labelFontSize":14,"labelColor":"#444","labelOverlap":false,"labelFlush":false,"labelBound":false,"title":"Equivalent Timelength [ns]","titleFontSize":13,"titleFontWeight":"normal","titleColor":"#444","titleX":-86,"titleY":102,"titleAngle":-90,"titleAlign":"center","titleBaseline":"middle"}},
"color":{"field":"cls","type":"nominal","scale":{"domain":["noise","pd"],"range":["#1c1c1c","#b3343c"]},"legend":null}}},
{"data":{"values":[{}]},"mark":{"type":"rule","color":"#555","strokeWidth":1.2},"encoding":{"x":{"datum":0},"x2":{"datum":15.1},"y":{"datum":400}}},
{"data":{"values":[{}]},"mark":{"type":"point","shape":"M-0.844,0A0.844,1,0,1,1,0.844,0A0.844,1,0,1,1,-0.844,0Z","size":20563,"filled":false,"color":"#c8202a","strokeWidth":2.5,"opacity":1},"encoding":{"x":{"datum":8.68},"y":{"datum":236.5}}},
{"data":{"values":[{}]},"mark":{"type":"rule","color":"#9a9a9a","strokeWidth":1.5},"encoding":{"x":{"datum":-6.46},"x2":{"datum":16.04},"y":{"datum":10}}},
{"data":{"values":[{}]},"mark":{"type":"text","text":"(b) 分离后发现隐藏放电（红色部分）","align":"left","baseline":"middle","fontSize":24,"font":"Liberation Serif, Noto Sans CJK SC","color":"#111"},"encoding":{"x":{"datum":-6.79},"y":{"datum":-33.8}}}
]},
{"width":273,"height":179.5,"resolve":{"scale":{"y":"independent"}},"layer":[
{"layer":[
{"data":{"name":"cWave"},"mark":{"type":"line","color":"#222","strokeWidth":1.6,"opacity":0},
"encoding":{
"x":{"field":"t","type":"quantitative","scale":{"domain":[0,2184],"nice":false,"zero":false},"axis":{"values":[0,65,130,195,260,325,390,455,520,585,650,715,780,845,910,975,1040,1105,1170,1235,1300,1365,1430,1495,1560,1625,1690,1755,1820,1885,1950,2015,2080,2145],"tickCount":100,"labelExpr":"datum.value == 0 ? '0.0E+0' : datum.value == 1105 ? '1.1E+3' : datum.value == 2080 ? '2.1E+3' : ''","grid":true,"gridColor":"#c8c8c8","gridWidth":1,"domain":false,"ticks":false,"tickSize":0,"labelPadding":12,"labelBaseline":"middle","labelFontSize":14,"labelColor":"#333","labelFlush":false,"labelOverlap":false,"labelBound":false,"title":"Time [ns]","titleFontSize":11,"titleFontWeight":"normal","titleColor":"#333","titleX":200,"titleY":37,"titleAlign":"center","titleBaseline":"middle"}},
"y":{"field":"v","type":"quantitative","scale":{"domain":[-0.0012,0.001],"nice":false,"zero":false},"axis":{"values":[-0.0012,0,0.001],"tickCount":100,"labelExpr":"datum.value < 0 ? '-0.00' : '0.00'","domain":true,"domainColor":"#666","domainWidth":1.2,"ticks":true,"tickSize":8,"tickColor":"#666","tickWidth":1.2,"grid":false,"labelPadding":4,"labelFontSize":14,"labelColor":"#333","labelOverlap":false,"labelFlush":false,"labelBound":false,"title":"Amplitude [V]","titleFontSize":10,"titleFontWeight":"normal","titleColor":"#333","titleX":-58,"titleY":66.5,"titleAngle":-90,"titleAlign":"center","titleBaseline":"middle"}}}},
{"data":{"values":[{}]},"mark":{"type":"rule","color":"#bdbdbd","strokeWidth":1},"encoding":{"x":{"datum":0},"x2":{"datum":2184},"y":{"datum":0}}},
{"data":{"values":[{}]},"mark":{"type":"rule","color":"#8c8c8c","strokeWidth":1.2},"encoding":{"x":{"datum":0},"x2":{"datum":2184},"y":{"datum":0.001}}},
{"data":{"name":"cWave"},"mark":{"type":"line","color":"#222","strokeWidth":1.6},"encoding":{"x":{"field":"t","type":"quantitative"},"y":{"field":"v","type":"quantitative"}}},
{"data":{"values":[{}]},"mark":{"type":"rule","color":"#9a9a9a","strokeWidth":1.5},"encoding":{"x":{"datum":2693.6},"y":{"datum":0.001104},"y2":{"datum":-0.001813}}},
{"data":{"values":[{}]},"mark":{"type":"rule","color":"#9a9a9a","strokeWidth":1.5},"encoding":{"x":{"datum":-720},"x2":{"datum":2693.6},"y":{"datum":-0.001813}}},
{"data":{"values":[{}]},"mark":{"type":"text","text":"(c) 放电脉冲波形","align":"left","baseline":"middle","fontSize":24,"font":"Liberation Serif, Noto Sans CJK SC","color":"#111"},"encoding":{"x":{"datum":-208},"y":{"datum":-0.00218}}}
]},
{"data":{"name":"cWave"},"mark":{"type":"line","opacity":0},
"encoding":{
"x":{"field":"t","type":"quantitative"},
"y":{"field":"v","type":"quantitative","scale":{"domain":[-0.0012,0.001],"nice":false,"zero":false},"axis":{"orient":"right","values":[0.000957,-0.001104],"tickCount":100,"labelExpr":"'0'","domain":false,"ticks":false,"tickSize":0,"grid":false,"labelPadding":13,"labelFontSize":14,"labelColor":"#333","labelOverlap":false,"labelFlush":false,"labelBound":false,"title":"Amplitude [pC]","titleFontSize":10,"titleFontWeight":"normal","titleColor":"#333","titleX":21,"titleY":92.5,"titleAngle":90,"titleAlign":"center","titleBaseline":"middle"}}}}
]},
{"width":242,"height":192.5,"layer":[
{"data":{"name":"dPts"},"mark":{"type":"point","filled":true,"size":5,"color":"#777","opacity":0.9},
"encoding":{
"x":{"field":"p","type":"quantitative","scale":{"domain":[-14.02,363],"nice":false,"zero":false},"axis":{"values":[0,180,360],"tickCount":100,"format":"d","domain":false,"ticks":false,"tickSize":0,"grid":false,"labelPadding":11,"labelBaseline":"middle","labelFontSize":9,"labelFontWeight":"bold","labelColor":"#333","labelFlush":false,"labelOverlap":false,"labelBound":false,"title":"Phase [Deg]","titleFontSize":9,"titleFontWeight":"bold","titleColor":"#333","titleX":182,"titleY":16,"titleAlign":"center","titleBaseline":"middle"}},
"y":{"field":"a","type":"quantitative","scale":{"domain":[-0.0105,0.01027],"nice":false,"zero":false},"axis":{"values":[-0.01,-0.005,0,0.005,0.01],"tickCount":100,"labelExpr":"datum.value > 0.009 ? '1.00E-2' : datum.value > 0.004 ? '5.00E-3' : datum.value > -0.001 ? '0' : datum.value > -0.006 ? '-5.00E-3' : '-1.00E-2'","domain":false,"ticks":false,"tickSize":0,"grid":false,"labelPadding":8,"labelFontSize":9,"labelFontWeight":"bold","labelColor":"#333","labelOverlap":false,"labelFlush":false,"labelBound":false,"title":"Amplitude [V]","titleFontSize":9,"titleFontWeight":"bold","titleColor":"#333","titleX":-58,"titleY":86.5,"titleAngle":-90,"titleAlign":"center","titleBaseline":"middle"}}}},
{"data":{"values":[{}]},"mark":{"type":"rule","color":"#333","strokeWidth":2},"encoding":{"x":{"datum":0},"x2":{"datum":363},"y":{"datum":0}}},
{"data":{"name":"dSine"},"mark":{"type":"line","color":"#555","strokeWidth":1.3,"interpolate":"monotone"},"encoding":{"x":{"field":"p","type":"quantitative"},"y":{"field":"a","type":"quantitative"}}},
{"data":{"values":[{}]},"mark":{"type":"rect","fill":"transparent","stroke":"#555","strokeWidth":1.5},"encoding":{"x":{"datum":0},"x2":{"datum":363},"y":{"datum":0.01027},"y2":{"datum":-0.0105}}},
{"data":{"values":[{}]},"mark":{"type":"rule","color":"#9a9a9a","strokeWidth":1.5},"encoding":{"x":{"datum":-132.4},"x2":{"datum":442.4},"y":{"datum":-0.01384}}},
{"data":{"name":"dArrows"},"mark":{"type":"rule","color":"#d21f1f","strokeWidth":4,"strokeCap":"butt"},"encoding":{"x":{"field":"x0","type":"quantitative"},"y":{"field":"y0","type":"quantitative"},"x2":{"field":"x1"},"y2":{"field":"y1"}}},
{"data":{"values":[{}]},"mark":{"type":"point","shape":"M0,0L-1,-0.43L-1,0.43Z","size":900,"filled":true,"color":"#d21f1f","opacity":1,"angle":114},"encoding":{"x":{"datum":80.5},"y":{"datum":0.00738}}},
{"data":{"values":[{}]},"mark":{"type":"point","shape":"M0,0L-1,-0.43L-1,0.43Z","size":900,"filled":true,"color":"#d21f1f","opacity":1,"angle":90},"encoding":{"x":{"datum":194.0},"y":{"datum":-0.00251}}},
{"data":{"values":[{}]},"mark":{"type":"point","shape":"M0,0L-1,-0.43L-1,0.43Z","size":900,"filled":true,"color":"#d21f1f","opacity":1,"angle":180},"encoding":{"x":{"datum":-342.7},"y":{"datum":0.000831}}},
{"data":{"values":[{}]},"mark":{"type":"text","text":"(d) 放电相位谱图","align":"left","baseline":"middle","fontSize":24,"font":"Liberation Serif, Noto Sans CJK SC","color":"#111"},"encoding":{"x":{"datum":-49.85},"y":{"datum":-0.01772}}}
]}
]
}
